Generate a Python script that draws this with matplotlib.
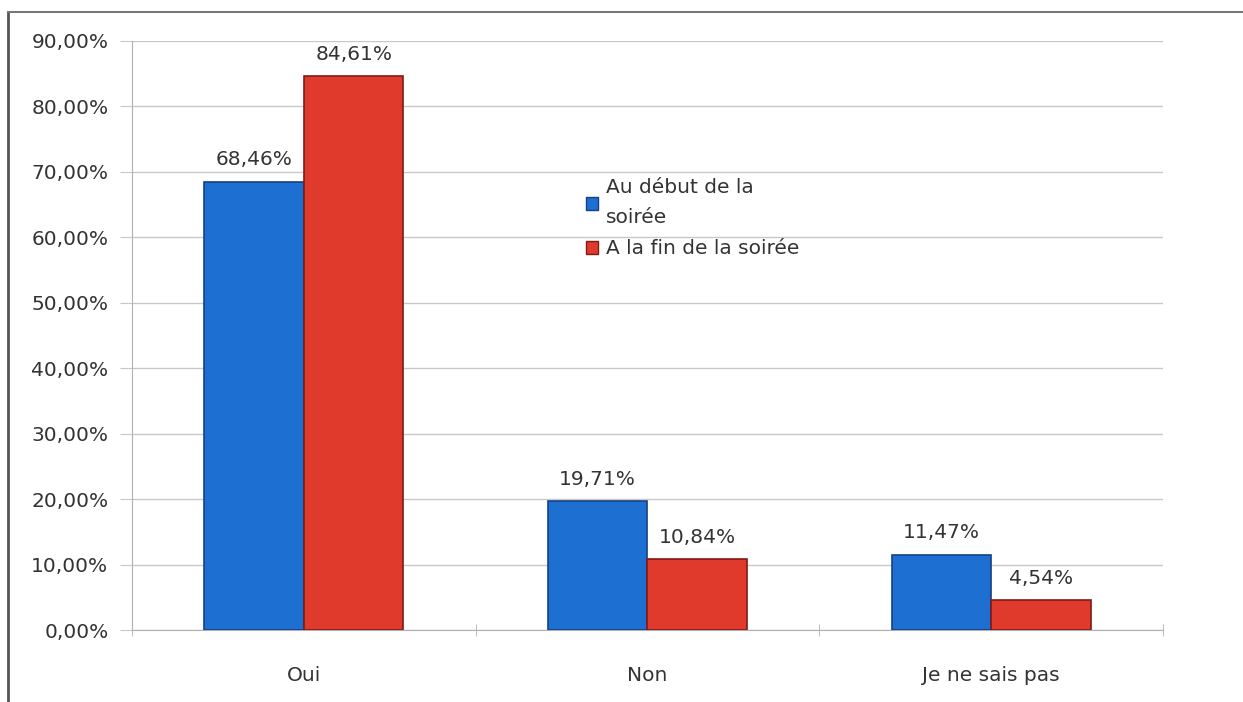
import matplotlib
matplotlib.use("Agg")
import matplotlib.pyplot as plt
import numpy as np
from matplotlib.lines import Line2D
from matplotlib.patches import Patch

categories = ["Oui", "Non", "Je ne sais pas"]
debut = [68.46, 19.71, 11.47]
fin = [84.61, 10.84, 4.54]
series_labels = ["Au début de la\nsoirée", "A la fin de la soirée"]
yticks = [0, 10, 20, 30, 40, 50, 60, 70, 80, 90]

plt.rcParams['font.family'] = ['DejaVu Sans']
FS = 14.5

fig = plt.figure(figsize=(12.43, 7.02), dpi=100)
ax = fig.add_axes([132/1243, 1-630/702, (1163-132)/1243, (630-41)/702])

x = np.arange(len(categories))
w = 0.29
blue, blue_e = "#1e6fd2", "#173f86"
red, red_e = "#e03a2c", "#7e1b18"
b1 = ax.bar(x - w/2, debut, w, color=blue, edgecolor=blue_e, linewidth=1.2, zorder=3)
b2 = ax.bar(x + w/2, fin, w, color=red, edgecolor=red_e, linewidth=1.2, zorder=3)

def fmt(v):
    return f"{v:.2f}".replace(".", ",") + "%"

for bars, vals in ((b1, debut), (b2, fin)):
    for r, v in zip(bars, vals):
        ax.annotate(fmt(v), (r.get_x() + r.get_width()/2, v), xytext=(0, 9),
                    textcoords="offset points", ha="center", va="bottom",
                    fontsize=FS, color="#333333")

ax.set_xlim(-0.5, 2.5)
ax.set_ylim(0, 90)
ax.set_yticks(yticks)
ax.set_yticklabels([f"{t:.2f}".replace(".", ",") + "%" for t in yticks], fontsize=FS, color="#333333")
ax.yaxis.grid(True, color="#c8c8c8", linewidth=1, zorder=0)
ax.tick_params(axis="y", length=9, color="#c8c8c8", pad=8)
ax.set_xticks(x)
ax.set_xticklabels(categories, fontsize=FS, color="#333333")
ax.tick_params(axis="x", length=0, pad=26)
ax.set_xticks([-0.5, 0.5, 1.5, 2.5], minor=True)
ax.tick_params(axis="x", which="minor", length=8, color="#b0b0b0", direction="inout")
for s in ["top", "right"]:
    ax.spines[s].set_visible(False)
ax.spines["left"].set_color("#b0b0b0")
ax.spines["bottom"].set_color("#b0b0b0")

handles = [Patch(facecolor=blue, edgecolor=blue_e), Patch(facecolor=red, edgecolor=red_e)]
leg = fig.legend(handles, series_labels, loc="upper left", bbox_to_anchor=(568/1243, 1-160/702),
                 frameon=False, fontsize=FS, handlelength=0.6, handleheight=0.6,
                 handletextpad=0.4, labelspacing=0.6)
for t in leg.get_texts():
    t.set_color("#333333")
    t.set_linespacing(1.75)

# outer frame
fig.add_artist(Line2D([8/1243, 8/1243], [0, 1-12/702], transform=fig.transFigure, color="#555555", linewidth=2))
fig.add_artist(Line2D([8/1243, 1], [1-12/702, 1-12/702], transform=fig.transFigure, color="#777777", linewidth=1.5))

fig.savefig("out.png", dpi=100)
